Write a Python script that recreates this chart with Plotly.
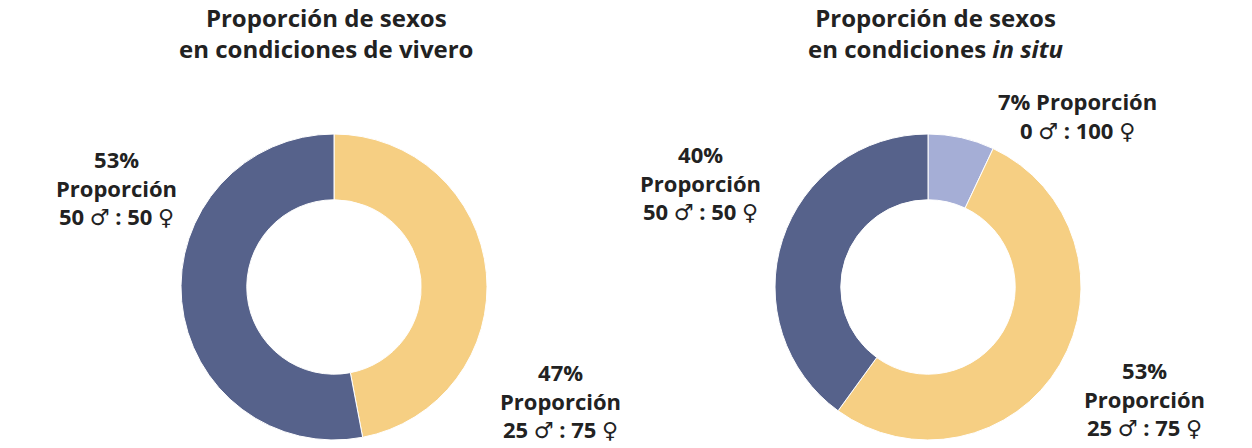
import plotly.graph_objects as go

W, H = 1252, 448

# data
vivero_pct = [53, 47]
vivero_male = [50, 25]
vivero_female = [50, 75]

insitu_pct = [40, 53, 7]
insitu_male = [50, 25, 0]
insitu_female = [50, 75, 100]

# one colour per sex ratio group
vivero_colors = ["#56628B", "#F6CF83"]
insitu_colors = ["#56628B", "#F6CF83", "#A5AED6"]

titles = [
    "<b>Proporción de sexos</b><br><b>en condiciones de vivero</b>",
    "<b>Proporción de sexos</b><br><b>en condiciones <i>in situ</i></b>",
]


def px_x(x):
    return x / W


def px_y(y):
    return 1 - y / H


def ratio_text(m, f):
    return f"<b>{m}</b> ♂ <b>: {f}</b> ♀"


R = 153
CY = 287


def domain(cx):
    return dict(x=[px_x(cx - 200), px_x(cx + 200)],
                y=[px_y(CY + R), px_y(CY - R)])


# slices run counterclockwise from 12 o'clock in the reference,
# so hand them to plotly reversed and drawn clockwise
fig = go.Figure()
fig.add_trace(go.Pie(
    values=vivero_pct[::-1], labels=["b", "a"],
    marker=dict(colors=vivero_colors[::-1], line=dict(color="white", width=1)),
    hole=0.57, sort=False, direction="clockwise", rotation=0,
    textinfo="none", hoverinfo="skip", domain=domain(334),
))
fig.add_trace(go.Pie(
    values=insitu_pct[::-1], labels=["c", "b", "a"],
    marker=dict(colors=insitu_colors[::-1], line=dict(color="white", width=1)),
    hole=0.57, sort=False, direction="clockwise", rotation=0,
    textinfo="none", hoverinfo="skip", domain=domain(928),
))

annotations = []
font = dict(family="Open Sans, DejaVu Sans, sans-serif", size=22, color="#222222", weight=400)

# titles
for t, cx in zip(titles, [326, 935]):
    annotations.append(dict(text=t, x=px_x(cx), y=px_y(33), xref="paper", yref="paper",
                            showarrow=False, xanchor="center", yanchor="middle",
                            font=dict(family="Open Sans, sans-serif", size=24, color="#222222")))

# slice labels
vivero_pos = [(116, 187), (560, 400)]
for p, m, f, (x, y) in zip(vivero_pct, vivero_male, vivero_female, vivero_pos):
    annotations.append(dict(text=f"<b>{p}%</b><br><b>Proporción</b><br>{ratio_text(m, f)}",
                            x=px_x(x), y=px_y(y), xref="paper", yref="paper",
                            showarrow=False, xanchor="center", yanchor="middle", font=font))

insitu_pos = [(700, 183), (1144, 398), (1077, 115)]
for i, (p, m, f, (x, y)) in enumerate(zip(insitu_pct, insitu_male, insitu_female, insitu_pos)):
    if i == 2:
        txt = f"<b>{p}% Proporción</b><br>{ratio_text(m, f)}"
    else:
        txt = f"<b>{p}%</b><br><b>Proporción</b><br>{ratio_text(m, f)}"
    annotations.append(dict(text=txt, x=px_x(x), y=px_y(y), xref="paper", yref="paper",
                            showarrow=False, xanchor="center", yanchor="middle", font=font))

fig.update_layout(
    width=W, height=H,
    margin=dict(l=0, r=0, t=0, b=0),
    paper_bgcolor="white", plot_bgcolor="white",
    showlegend=False,
    annotations=annotations,
)

# drop the default page margin so the figure sits at the window's corner
fig.write_html("out.html", config={"displayModeBar": False},
               post_script="document.body.style.margin='0px';")
